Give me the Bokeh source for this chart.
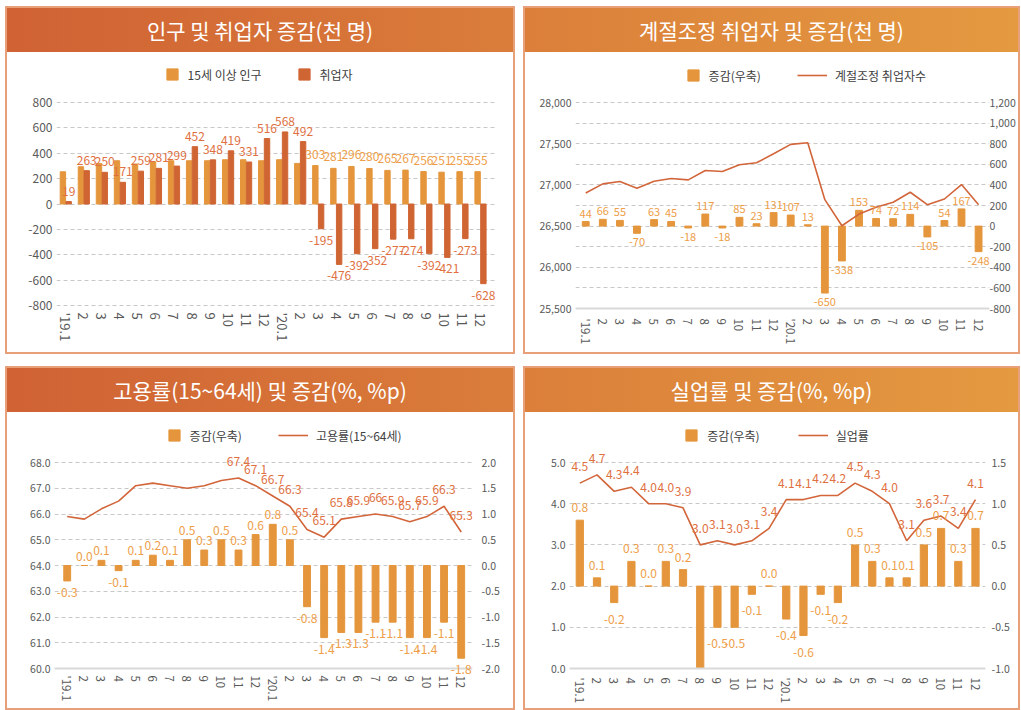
import numpy as np
from bokeh.plotting import figure
from bokeh.models import (Range1d, LinearAxis, FixedTicker, NumeralTickFormatter,
                          Legend, LegendItem, LabelSet, ColumnDataSource, Div, Span)
from bokeh.layouts import column, row
from bokeh.embed import file_html
from bokeh.resources import INLINE
from bokeh.core.properties import value

# ---------------- data ----------------
months = ["'19.1", "2", "3", "4", "5", "6", "7", "8", "9", "10", "11", "12",
          "'20.1", "2", "3", "4", "5", "6", "7", "8", "9", "10", "11", "12"]

# panel 1 : 인구 및 취업자 증감 (천 명)
pop_change = [254, 294, 320, 341, 315, 333, 341, 341, 341, 349, 349, 341,
              349, 320, 303, 281, 296, 280, 265, 267, 256, 251, 255, 255]
emp_change = [19, 263, 250, 171, 259, 281, 299, 452, 348, 419, 331, 516,
              568, 492, -195, -476, -392, -352, -277, -274, -392, -421, -273, -628]

# panel 2 : 계절조정 취업자 및 증감 (천 명)
sa_emp = [26902, 27012, 27041, 26959, 27045, 27077, 27061, 27175, 27163, 27244, 27268, 27378,
          27492, 27512, 26821, 26504, 26646, 26728, 26789, 26911, 26760, 26829, 27004, 26760]
sa_chg = [44, 66, 55, -70, 63, 45, -18, 117, -18, 85, 23, 131,
          107, 13, -650, -338, 153, 74, 72, 114, -105, 54, 167, -248]

# panel 3 : 고용률(15~64세) 및 증감 (%, %p)
emp_rate = [65.9, 65.8, 66.2, 66.5, 67.1, 67.2, 67.1, 67.0, 67.1, 67.3, 67.4, 67.1,
            66.7, 66.3, 65.4, 65.1, 65.8, 65.9, 66.0, 65.9, 65.7, 65.9, 66.3, 65.3]
emp_rate_chg = [-0.3, 0.0, 0.1, -0.1, 0.1, 0.2, 0.1, 0.5, 0.3, 0.5, 0.3, 0.6,
                0.8, 0.5, -0.8, -1.4, -1.3, -1.3, -1.1, -1.1, -1.4, -1.4, -1.1, -1.8]
emp_rate_label_from = 10

# panel 4 : 실업률 및 증감 (%, %p)
unemp = [4.5, 4.7, 4.3, 4.4, 4.0, 4.0, 3.9, 3.0, 3.1, 3.0, 3.1, 3.4,
         4.1, 4.1, 4.2, 4.2, 4.5, 4.3, 4.0, 3.1, 3.6, 3.7, 3.4, 4.1]
unemp_chg = [0.8, 0.1, -0.2, 0.3, 0.0, 0.3, 0.2, -1.0, -0.5, -0.5, -0.1, 0.0,
             -0.4, -0.6, -0.1, -0.2, 0.5, 0.3, 0.1, 0.1, 0.5, 0.7, 0.3, 0.7]

# ---------------- styles ----------------
FONT = "Noto Sans CJK KR"
C_POP = "#E5963C"
C_EMP = "#D06534"
C_BAR = "#E5963C"
C_LINE = "#D2653A"
C_LBL_DARK = "#E0703F"
C_LBL_LIGHT = "#EE9E48"
C_TICK = "#595959"
GRID = "#C8C8C8"
PANEL = {"box-shadow": "0 0 0 2px #E8A07A"}
GRAD_A = ("#D06234", "#DA7D3A")
GRAD_B = ("#DB7F3A", "#E49A40")

X = np.arange(len(months))
BANNER_H = 44
W1, W2 = 506, 493
TOP_H = 344 - BANNER_H
BOT_H = 340 - BANNER_H


def banner(title, w, grad):
    return Div(text=title, width=w, height=BANNER_H, margin=0, styles={
        "background": f"linear-gradient(90deg, {grad[0]}, {grad[1]})",
        "color": "white", "font-family": FONT, "font-size": "21px",
        "text-align": "center", "line-height": f"{BANNER_H}px", "overflow": "hidden"})


def vrange(lo, hi, g):
    dpp = (hi - lo) / (g["YL"] - g["YH"])
    return Range1d(lo - (g["FB"] - g["YL"]) * dpp, hi + (g["YH"] - g["FT"]) * dpp)


def hrange(g, n):
    upp = (n - 1) / (g["CN"] - g["C0"])
    return Range1d(-(g["C0"] - g["FL"]) * upp, (n - 1) + (g["FR"] - g["CN"]) * upp)


def base_fig(w, g, lo, hi, x_font, y_font, x_standoff):
    p = figure(width=w, height=g["H"], x_range=hrange(g, len(months)), y_range=vrange(lo, hi, g),
               toolbar_location=None, output_backend="svg",
               min_border_left=g["FL"], min_border_right=w - g["FR"],
               min_border_top=g["FT"], min_border_bottom=g["H"] - g["FB"])
    p.outline_line_color = None
    p.xgrid.visible = False
    p.ygrid.grid_line_color = GRID
    p.ygrid.grid_line_dash = "4 3"
    p.xaxis.ticker = FixedTicker(ticks=list(range(len(months))))
    p.xaxis.major_label_overrides = {i: m for i, m in enumerate(months)}
    p.xaxis.major_label_orientation = "vertical"
    p.xaxis.axis_line_color = None
    for ax in p.axis:
        ax.major_tick_line_color = None
        ax.minor_tick_line_color = None
        ax.major_tick_out = 0
        ax.major_tick_in = 0
        ax.major_label_text_font = FONT
        ax.major_label_text_color = C_TICK
        ax.major_label_text_font_size = y_font
        ax.major_label_standoff = 4
    p.yaxis.axis_line_color = None
    p.xaxis.major_label_text_font_size = x_font
    p.xaxis.major_label_standoff = x_standoff
    return p


def right_axis(p, ticks, fmt, font, standoff):
    ax = LinearAxis(y_range_name="r", ticker=FixedTicker(ticks=ticks),
                    formatter=NumeralTickFormatter(format=fmt))
    ax.axis_line_color = None
    ax.major_tick_line_color = None
    ax.minor_tick_line_color = None
    ax.major_tick_out = 0
    ax.major_tick_in = 0
    ax.major_label_text_font = FONT
    ax.major_label_text_color = C_TICK
    ax.major_label_text_font_size = font
    ax.major_label_standoff = standoff
    p.add_layout(ax, "right")


def make_legend(items, x, g, gw, standoff, spacing=0):
    return Legend(items=items, location=(x, g["FB"] - g["LEG"] - 14), orientation="horizontal",
                  glyph_width=gw, glyph_height=28, label_standoff=standoff, spacing=spacing,
                  padding=0, margin=0, border_line_color=None, background_fill_alpha=0,
                  label_text_font=FONT, label_text_font_size="12px",
                  label_text_color="#404040")


def square_key(p, color):
    # legend key only: a single point with no y value, so nothing is drawn in the plot
    return p.scatter(x=X[:1], y=[np.nan], marker="square", size=11, color=color)


def labels(p, xs, ys, texts, color, baseline, off, size="12px", y_range_name="default"):
    src = ColumnDataSource(dict(x=list(xs), y=list(ys), t=list(texts)))
    p.add_layout(LabelSet(x="x", y="y", text="t", source=src, text_align="center",
                          text_baseline=baseline, y_offset=off, text_color=color,
                          text_font=value(FONT), text_font_size=value(size),
                          y_range_name=y_range_name))


def bar_labels(p, xs, vals, fmt, color, pos_off, neg_off, size="12px", y_range_name="default"):
    pos = [(x, v) for x, v in zip(xs, vals) if v >= 0]
    neg = [(x, v) for x, v in zip(xs, vals) if v < 0]
    labels(p, [a for a, _ in pos], [b for _, b in pos], [fmt(b) for _, b in pos],
           color, "bottom", pos_off, size, y_range_name)
    labels(p, [a for a, _ in neg], [b for _, b in neg], [fmt(b) for _, b in neg],
           color, "top", -neg_off, size, y_range_name)


def base_line(p, y):
    p.add_layout(Span(location=y, dimension="width", line_color="#D9D9D9", line_width=2))


# ---------------- panel 1 ----------------
g1 = dict(H=TOP_H, FT=4, YH=50, YL=253, FB=256, LEG=22, FL=49, FR=489, C0=58.3, CN=473)
p1 = base_fig(W1, g1, -800, 800, "13px", "12px", 4)
p1.yaxis.ticker = FixedTicker(ticks=list(range(-800, 801, 200)))
p1.yaxis.formatter = NumeralTickFormatter(format="0")
r_pop = p1.vbar(x=X - 0.16, top=pop_change, width=0.3, color=C_POP)
r_emp = p1.vbar(x=X + 0.16, top=emp_change, width=0.3, color=C_EMP)
bar_labels(p1, X + 0.16, emp_change, lambda v: f"{v:d}", C_LBL_DARK, 6, 7)
pop_lbl = [(x - 0.16, pv) for x, pv, e in zip(X, pop_change, emp_change) if e < 0]
labels(p1, [a for a, _ in pop_lbl], [b for _, b in pop_lbl], [f"{b:d}" for _, b in pop_lbl],
       C_LBL_LIGHT, "bottom", 7)
p1.add_layout(make_legend([LegendItem(label="15세 이상 인구", renderers=[square_key(p1, C_POP)]),
                           LegendItem(label="취업자", renderers=[square_key(p1, C_EMP)])],
                          101.6, g1, 28, 2, 28))
col1 = column(banner("인구 및 취업자 증감(천 명)", W1, GRAD_A), p1, spacing=0, styles=PANEL)

# ---------------- panel 2 ----------------
g2 = dict(H=TOP_H, FT=4, YH=50, YL=256, FB=264, LEG=23, FL=50, FR=467, C0=60.3, CN=456)
p2 = base_fig(W2, g2, 25500, 28000, "11.5px", "10.5px", 2)
p2.extra_y_ranges = {"r": vrange(-800, 1200, g2)}
p2.yaxis.ticker = FixedTicker(ticks=list(range(25500, 28001, 500)))
p2.yaxis.formatter = NumeralTickFormatter(format="0,0")
p2.ygrid.ticker = FixedTicker(ticks=list(range(25500, 28001, 250)))
right_axis(p2, list(range(-800, 1201, 200)), "0,0", "10.5px", 0)
base_line(p2, 25500)
rb2 = p2.vbar(x=X, top=sa_chg, width=0.4, color=C_BAR, y_range_name="r")
rl2 = p2.line(X, sa_emp, color=C_LINE, line_width=1.6)
bar_labels(p2, X, sa_chg, lambda v: f"{v:d}", C_LBL_LIGHT, 4, 5, "11px", "r")
p2.add_layout(make_legend([LegendItem(label="증감(우축)", renderers=[square_key(p2, C_BAR)])],
                          103.6, g2, 28, 2))
p2.add_layout(make_legend([LegendItem(label="계절조정 취업자수", renderers=[rl2])],
                          222, g2, 30, 8))
col2 = column(banner("계절조정 취업자 및 증감(천 명)", W2, GRAD_B), p2, spacing=0, styles=PANEL)

# ---------------- panel 3 ----------------
g3 = dict(H=BOT_H, FT=4, YH=50, YL=256, FB=262, LEG=23, FL=47, FR=465, C0=59.7, CN=453.7)
p3 = base_fig(W1, g3, 60, 68, "11.5px", "10.5px", 1)
p3.extra_y_ranges = {"r": vrange(-2, 2, g3)}
p3.yaxis.ticker = FixedTicker(ticks=list(range(60, 69)))
p3.yaxis.formatter = NumeralTickFormatter(format="0.0")
right_axis(p3, [-2, -1.5, -1, -0.5, 0, 0.5, 1, 1.5, 2], "0.0", "10.5px", 9)
base_line(p3, 60)
rb3 = p3.vbar(x=X, top=emp_rate_chg, width=0.4, color=C_BAR, y_range_name="r")
rl3 = p3.line(X, emp_rate, color=C_LINE, line_width=1.6)
bar_labels(p3, X, emp_rate_chg, lambda v: f"{v:.1f}", C_LBL_LIGHT, 5, 7, "12px", "r")
labels(p3, X[emp_rate_label_from:], emp_rate[emp_rate_label_from:],
       [f"{v:g}" for v in emp_rate[emp_rate_label_from:]], C_LBL_DARK, "bottom", 12)
p3.add_layout(make_legend([LegendItem(label="증감(우축)", renderers=[square_key(p3, C_BAR)])],
                          105.6, g3, 28, 2))
p3.add_layout(make_legend([LegendItem(label="고용률(15~64세)", renderers=[rl3])],
                          224, g3, 30, 8))
col3 = column(banner("고용률(15~64세) 및 증감(%, %p)", W1, GRAD_A), p3, spacing=0, styles=PANEL)

# ---------------- panel 4 ----------------
g4 = dict(H=BOT_H, FT=4, YH=50, YL=256, FB=263, LEG=23, FL=44, FR=460, C0=54.3, CN=450)
p4 = base_fig(W2, g4, 0, 5, "11.5px", "10.5px", 2)
p4.extra_y_ranges = {"r": vrange(-1, 1.5, g4)}
p4.yaxis.ticker = FixedTicker(ticks=[0, 1, 2, 3, 4, 5])
p4.yaxis.formatter = NumeralTickFormatter(format="0.0")
right_axis(p4, [-1, -0.5, 0, 0.5, 1, 1.5], "0.0", "10.5px", 6)
base_line(p4, 0)
rb4 = p4.vbar(x=X, top=unemp_chg, width=0.42, color=C_BAR, y_range_name="r")
rl4 = p4.line(X, unemp, color=C_LINE, line_width=1.6)
bar_labels(p4, X, unemp_chg, lambda v: f"{v:.1f}", C_LBL_LIGHT, 8, 12, "12px", "r")
labels(p4, X, unemp, [f"{v:.1f}" for v in unemp], C_LBL_DARK, "bottom", 12)
p4.add_layout(make_legend([LegendItem(label="증감(우축)", renderers=[square_key(p4, C_BAR)])],
                          108.3, g4, 28, 2))
p4.add_layout(make_legend([LegendItem(label="실업률", renderers=[rl4])],
                          228.7, g4, 30, 8))
col4 = column(banner("실업률 및 증감(%, %p)", W2, GRAD_B), p4, spacing=0, styles=PANEL)

page = column(row(col1, col2, spacing=12), row(col3, col4, spacing=12), spacing=16,
              margin=(8, 0, 0, 7))

open("out.html", "w").write(file_html(page, INLINE))
